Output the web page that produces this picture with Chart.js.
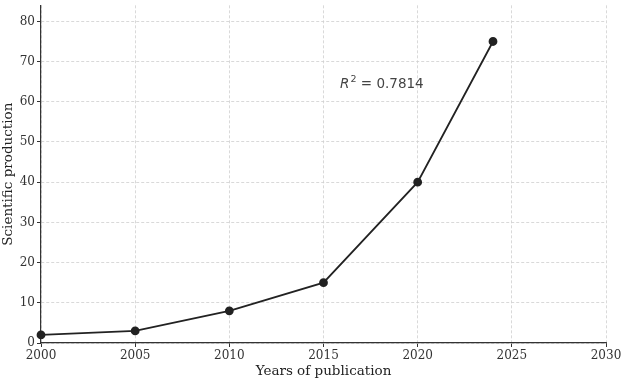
<!DOCTYPE html>
<html>
<head>
<meta charset="utf-8">
<script src="https://cdn.jsdelivr.net/npm/chart.js@4"></script>
<style>
  html, body { margin: 0; padding: 0; background: #fff; }
  #wrap { width: 621px; height: 380px; }
</style>
</head>
<body>
<div id="wrap"><canvas id="js_prodChart" width="621" height="380"></canvas></div>
<script>
// chart data
const years = [2000, 2005, 2010, 2015, 2020, 2024];
const production = [2, 3, 8, 15, 40, 75];
const xTicks = [2000, 2005, 2010, 2015, 2020, 2025, 2030];
const yTicks = [0, 10, 20, 30, 40, 50, 60, 70, 80];
const r2Label = { x: 2018.1, y: 64.3, text: '0.7814' };

const serif = '"DejaVu Serif", "Liberation Serif", serif';
const ink = '#222';

// draws the R^2 note at a data position
const r2Note = {
  id: 'r2Note',
  afterDatasetsDraw: (chart) => {
    const { ctx, scales } = chart;
    const px = scales.x.getPixelForValue(r2Label.x);
    const py = scales.y.getPixelForValue(r2Label.y);
    ctx.save();
    ctx.fillStyle = '#444';
    ctx.textBaseline = 'middle';
    ctx.font = 'italic 13.5px "DejaVu Sans"';
    const rW = ctx.measureText('R').width;
    ctx.font = '9.5px "DejaVu Sans"';
    const sW = ctx.measureText('2').width;
    ctx.font = '13.5px "DejaVu Sans"';
    const rest = ' = ' + r2Label.text;
    const restW = ctx.measureText(rest).width;
    const x0 = px - (rW + sW + 1 + restW) / 2;
    ctx.font = 'italic 13.5px "DejaVu Sans"';
    ctx.fillText('R', x0, py);
    ctx.font = '9.5px "DejaVu Sans"';
    ctx.fillText('2', x0 + rW + 1, py - 5);
    ctx.font = '13.5px "DejaVu Sans"';
    ctx.fillText(rest, x0 + rW + sW + 1, py);
    ctx.restore();
  },
};

const axisCommon = {
  type: 'linear',
  grid: {
    color: '#cfcfcf',
    lineWidth: 0.8,
    tickColor: '#333',
    tickLength: 4,
    tickWidth: 1,
    tickBorderDash: [],
  },
  border: { color: '#333', width: 1.2, dash: [3, 2] },
  ticks: {
    color: '#333',
    font: { family: serif, size: 12 },
    padding: 2,
    includeBounds: false,
    maxRotation: 0,
  },
  title: {
    display: true,
    color: '#222',
    font: { family: serif, size: 13.5 },
  },
};

document.addEventListener('DOMContentLoaded', () => {
  const ctx = document.getElementById('js_prodChart');

  new Chart(ctx, {
    type: 'line',
    data: {
      datasets: [{
        data: years.map((y, i) => ({ x: y, y: production[i] })),
        borderColor: ink,
        backgroundColor: ink,
        borderWidth: 1.8,
        pointRadius: 3.5,
        pointHoverRadius: 3.5,
        tension: 0,
        clip: false,
      }],
    },
    options: {
      responsive: false,
      animation: false,
      events: [],
      plugins: { legend: { display: false }, tooltip: { enabled: false } },
      scales: {
        x: {
          ...axisCommon,
          min: 2000,
          max: 2030,
          afterBuildTicks: (scale) => { scale.ticks = xTicks.map(v => ({ value: v })); },
          afterFit: (scale) => {
            scale.height = 37;
            scale.paddingLeft = 0;
            scale.paddingRight = 15;
          },
          ticks: { ...axisCommon.ticks, callback: v => String(v) },
          title: { ...axisCommon.title, text: 'Years of publication', padding: { top: 0, bottom: 0 } },
        },
        y: {
          ...axisCommon,
          min: 0,
          max: 84,
          afterBuildTicks: (scale) => { scale.ticks = yTicks.map(v => ({ value: v })); },
          afterFit: (scale) => {
            scale.width = 41;
            scale.paddingTop = 0;
            scale.paddingBottom = 0;
          },
          title: { ...axisCommon.title, text: 'Scientific production', padding: { top: 0, bottom: 1 } },
        },
      },
    },
    plugins: [r2Note],
  });
});
</script>
</body>
</html>
